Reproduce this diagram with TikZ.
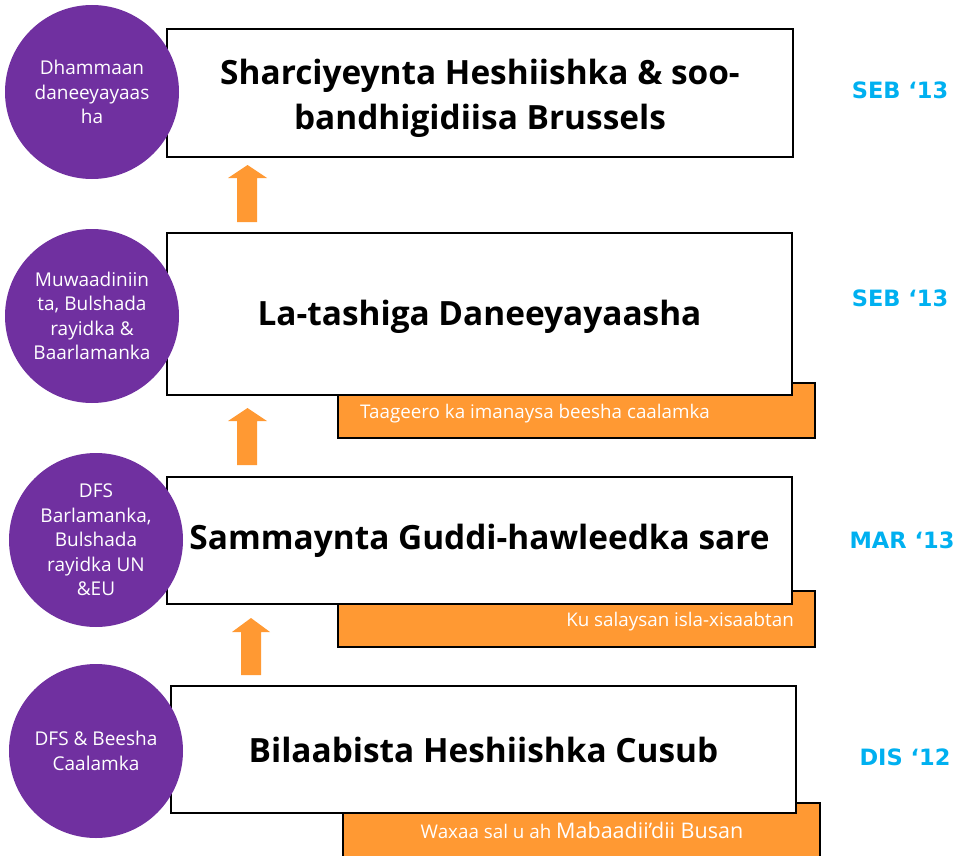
\documentclass[tikz,border=0pt]{standalone}
\usepackage{fontspec}
\setmainfont{Open Sans}
\newfontfamily\datefont{DejaVu Sans}
\definecolor{purp}{RGB}{112,48,160}
\definecolor{orng}{RGB}{255,153,51}
\definecolor{datec}{RGB}{0,176,240}
\begin{document}
\begin{tikzpicture}[x=1pt,y=-1pt,
  stage/.style={rectangle,draw=black,line width=1.6pt,fill=white,inner sep=0pt,align=center,
    font=\fontsize{33.4}{45}\selectfont\bfseries},
  stagetext/.style={inner sep=0pt,align=center,font=\fontsize{33.4}{45}\selectfont\bfseries},
  band/.style={rectangle,draw=black,line width=1.6pt,fill=orng,inner sep=0pt},
  who/.style={circle,fill=purp,text=white,inner sep=0pt,minimum size=174pt,align=center,
    font=\fontsize{19}{24.5}\selectfont},
  bandtext/.style={text=white,font=\fontsize{18.8}{22}\selectfont,inner sep=0pt},
  when/.style={text=datec,font=\datefont\fontsize{22.5}{26}\selectfont\bfseries,inner sep=0pt},
  uparrow/.style={fill=orng}]
\useasboundingbox (0,0) rectangle (961,856);
% orange bands (behind)
\node[band,minimum width=477pt,minimum height=55pt] (o2) at (576.5,410.5) {};
\node[band,minimum width=477pt,minimum height=56pt] (o3) at (576.5,619) {};
\node[band,minimum width=477pt,minimum height=67pt] (o4) at (581.5,836.5) {};
% stage boxes
\node[stage,minimum width=626pt,minimum height=128pt] (b1) at (480,93) {};
\node[stagetext] (b1t) at (480,98)
  {Sharciyeynta Heshiishka \& soo-\\bandhigidiisa Brussels};
\node[stage,minimum width=625pt,minimum height=162pt] (b2) at (479.5,314) {};
\node[stagetext] (b2t) at (479.5,317) {La-tashiga Daneeyayaasha};
\node[stage,minimum width=625pt,minimum height=127pt] (b3) at (479.5,540.5)
  {Sammaynta Guddi-hawleedka sare};
\node[stage,minimum width=625pt,minimum height=127pt] (b4) at (483.5,749.5)
  {Bilaabista Heshiishka Cusub};
% band texts
\node[bandtext,anchor=base west] (t2) at (360,418) {Taageero ka imanaysa beesha caalamka};
\node[bandtext,anchor=base east] (t3) at (794,626) {Ku salaysan isla-xisaabtan};
\node[bandtext,anchor=base] (t4) at (582,838) {Waxaa sal u ah {\fontsize{21.5}{24}\selectfont Mabaadii’dii Busan}};
% circles
\node[who] (c1) at (92,92) {Dhammaan\\daneeyayaas\\ha};
\node[who] (c2) at (92,316) {Muwaadiniin\\ta, Bulshada\\rayidka \&\\Baarlamanka};
\node[who] (c3) at (96,540) {DFS\\Barlamanka,\\Bulshada\\rayidka UN\\\&EU};
\node[who] (c4) at (96,751) {DFS \& Beesha\\Caalamka};
% arrows
\fill[uparrow] (237,222) -- (237,178) -- (228,178) -- (247.5,165) -- (267,178) -- (257,178) -- (257,222) -- cycle;
\fill[uparrow] (237,465) -- (237,421) -- (228,421) -- (247.5,408) -- (267,421) -- (257,421) -- (257,465) -- cycle;
\fill[uparrow] (241,675) -- (241,632) -- (232,632) -- (251,618) -- (270,632) -- (261,632) -- (261,675) -- cycle;
% dates
\node[when] (d1) at (900,90) {SEB ‘13};
\node[when] (d2) at (900,298) {SEB ‘13};
\node[when] (d3) at (902,540) {MAR ‘13};
\node[when] (d4) at (905,757) {DIS ‘12};
\end{tikzpicture}
\end{document}
